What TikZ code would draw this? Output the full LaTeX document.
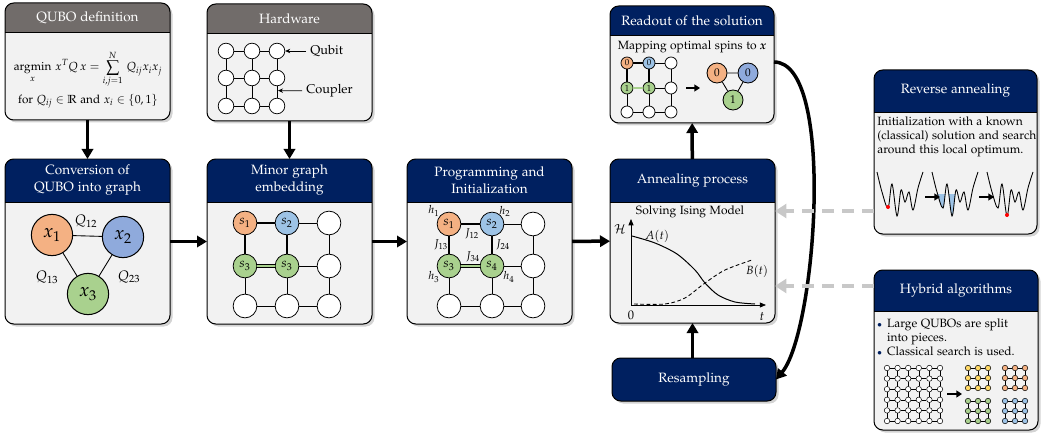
\documentclass[tikz,border=0pt]{standalone}
\usepackage[T1]{fontenc}
\usepackage{amsmath,amssymb}
\usepackage[sc]{mathpazo}
\usetikzlibrary{arrows.meta,shadows,fit,calc}

\definecolor{navy}{HTML}{002060}
\definecolor{headgray}{HTML}{716C6A}
\definecolor{bodygray}{HTML}{F2F2F2}
\definecolor{qorange}{HTML}{F4B183}
\definecolor{qblue}{HTML}{8FAADC}
\definecolor{sblue}{HTML}{9DC3E6}
\definecolor{qgreen}{HTML}{A9D18E}
\definecolor{qyellow}{HTML}{FFD966}
\definecolor{hintgray}{HTML}{C8C8C8}

\tikzset{
  boxline/.style={draw=black,line width=0.8pt,rounded corners=7pt},
  headtext/.style={text=white,align=center,font=\fontsize{10.8}{13.6}\selectfont},
  bodytext/.style={font=\fontsize{9.6}{11}\selectfont},
  flow/.style={line width=2.8pt,-{Triangle[length=8pt,width=9pt]}},
  smallflow/.style={line width=1.5pt,-{Triangle[length=4.5pt,width=5.5pt]}},
  hint/.style={line width=3.6pt,hintgray,dash pattern=on 10pt off 6pt,-{Triangle[length=9pt,width=11pt]}},
  pointer/.style={line width=0.6pt,-{Stealth[length=4pt,width=3.5pt]}},
  thinlink/.style={line width=0.6pt},
  qnode/.style={circle,draw,line width=0.8pt,minimum size=33pt,inner sep=0pt,font=\fontsize{15}{17}\selectfont},
  snode/.style={circle,draw,line width=0.6pt,minimum size=19pt,inner sep=0pt,font=\fontsize{10.5}{12}\selectfont},
  hnode/.style={circle,draw,line width=0.6pt,fill=white,minimum size=12.5pt,inner sep=0pt},
  rnode/.style={circle,draw,line width=0.6pt,minimum size=9.6pt,inner sep=0pt,font=\fontsize{7}{8}\selectfont},
  tnode/.style={circle,draw,line width=0.7pt,minimum size=16pt,inner sep=0pt,font=\fontsize{9}{10}\selectfont},
  dotnode/.style={circle,draw,line width=0.4pt,fill=white,minimum size=4.4pt,inner sep=0pt},
  wellcurve/.style={insert path={plot[smooth,tension=0.55] coordinates
    {(0,0) (5,20) (11,36) (15,12) (20,44) (24,18) (28,30) (32,20) (36,38) (41,16) (46,0)}}}
}

% box with header: name, x1, y1, x2, y2, header bottom, header colour, title
\newcommand{\stage}[8]{%
  \path[fill=bodygray,rounded corners=7pt,
        drop shadow={shadow xshift=2pt,shadow yshift=-2pt,opacity=.35}]
    (#2,#3) rectangle (#4,#5);
  \node[inner sep=0pt,outer sep=0pt,fit={(#2,#3) (#4,#5)}] (#1) {};
  \begin{scope}
    \clip[rounded corners=7pt] (#2,#3) rectangle (#4,#5);
    \fill[#7] (#2,#3) rectangle (#4,#6);
    \draw[line width=0.5pt] (#2,#6) -- (#4,#6);
  \end{scope}
  \draw[boxline] (#2,#3) rectangle (#4,#5);
  \node[headtext] at ({(#2+#4)/2},{(#3+#6)/2}) {#8};
}

% links of a 3x3 grid with the embedded chain
\newcommand{\chainlinks}[2]{%
  \foreach \r in {1,2,3} \draw[thinlink] (#1-1-\r) -- (#1-2-\r) -- (#1-3-\r);
  \foreach \c in {1,2,3} \draw[thinlink] (#1-\c-1) -- (#1-\c-2) -- (#1-\c-3);
  \draw[line width=#2] (#1-1-2) -- (#1-1-1) -- (#1-2-1) -- (#1-2-2);
  \draw[line width=0.5pt,double=qgreen,double distance=#2] (#1-1-2) -- (#1-2-2);
}

% small 3x3 piece: name, x, y, colour
\newcommand{\piece}[4]{%
  \foreach \i in {0,1,2}
    \foreach \j in {0,1,2}
      \node[dotnode,fill=#4] (#1-\i-\j) at ({#2+10*\i},{#3+10*\j}) {};
  \foreach \i in {0,1,2}
    \foreach \j [count=\k from 1] in {0,1} {
      \draw[line width=0.4pt] (#1-\i-\j) -- (#1-\i-\k);
      \draw[line width=0.4pt] (#1-\j-\i) -- (#1-\k-\i);
    }
}

\begin{document}
\begin{tikzpicture}[x=0.8pt,y=-0.8pt]
\useasboundingbox (0,0) rectangle (1043,435);

% boxes
\stage{qubo}{5}{3}{170}{120}{32}{headgray}{QUBO definition}
\stage{hw}{207}{4}{372}{121}{33}{headgray}{Hardware}
\stage{conv}{5}{159}{170}{324}{202}{navy}{Conversion of\\QUBO into graph}
\stage{minor}{207}{159}{372}{324}{202}{navy}{Minor graph\\embedding}
\stage{prog}{407}{159}{572}{324}{202}{navy}{Programming and\\Initialization}
\stage{anneal}{610}{159}{775}{323}{202}{navy}{Annealing process}
\stage{readout}{610}{6}{774}{123}{35}{navy}{Readout of the solution}
\stage{resamp}{612}{358}{776}{401}{401}{navy}{Resampling}
\stage{rev}{874}{70}{1037}{234}{112}{navy}{Reverse annealing}
\stage{hybrid}{874}{270}{1038}{430}{311}{navy}{Hybrid algorithms}

% QUBO definition
\node[font=\fontsize{9.4}{11}\selectfont] (qdef) at (88,69)
  {$\displaystyle \operatorname*{argmin}_{x}\, x^{T}Q\,x = \sum_{i,j=1}^{N}\, Q_{ij}x_ix_j$};
\node[font=\fontsize{9.4}{11}\selectfont] (qfor) at (88,101)
  {for $Q_{ij}\in\mathbb{R}$ and $x_i\in\{0,1\}$};

% hardware
\foreach \c/\x in {1/226,2/252,3/277}
  \foreach \r/\y in {1/51,2/78,3/106}
    \node[hnode] (h-\c-\r) at (\x,\y) {};
\foreach \r in {1,2,3} \draw[thinlink] (h-1-\r) -- (h-2-\r) -- (h-3-\r);
\foreach \c in {1,2,3} \draw[thinlink] (h-\c-1) -- (h-\c-2) -- (h-\c-3);
\node[anchor=west,font=\fontsize{10.2}{12}\selectfont] (qubitlbl) at (306,51) {Qubit};
\node[anchor=west,font=\fontsize{10.2}{12}\selectfont] (couplerlbl) at (302,91) {Coupler};
\coordinate (cpl) at ($(h-3-2)!0.45!(h-3-3)$);
\draw[pointer] (qubitlbl) -- (h-3-1);
\draw[pointer] (couplerlbl) -- ([xshift=0.8pt]cpl);

% conversion of QUBO into graph
\node[qnode,fill=qorange] (x1) at (52,235) {$x_1$};
\node[qnode,fill=qblue] (x2) at (123,237) {$x_2$};
\node[qnode,fill=qgreen] (x3) at (88,294) {$x_3$};
\draw[line width=0.7pt] (x1) -- (x2) (x1) -- (x3) (x2) -- (x3);
\node[font=\fontsize{11}{12}\selectfont] (q12) at (86,221) {$Q_{12}$};
\node[font=\fontsize{11}{12}\selectfont] (q13) at (47,277) {$Q_{13}$};
\node[font=\fontsize{11}{12}\selectfont] (q23) at (129,277) {$Q_{23}$};

% minor graph embedding
\foreach \c/\r/\x/\y/\col/\lbl in {1/1/245/223/qorange/s_1, 2/1/287/223/sblue/s_2,
    3/1/329/223/white/, 1/2/245/266/qgreen/s_3, 2/2/287/266/qgreen/s_3,
    3/2/329/266/white/, 1/3/245/306/white/, 2/3/287/306/white/, 3/3/329/306/white/}
  \node[snode,fill=\col] (m-\c-\r) at (\x,\y) {\ensuremath{\lbl}};
\chainlinks{m}{1.6pt}

% programming and initialization
\foreach \c/\r/\x/\y/\col/\lbl in {1/1/449/224/qorange/s_1, 2/1/492/224/sblue/s_2,
    3/1/533/224/white/, 1/2/449/266/qgreen/s_3, 2/2/492/266/qgreen/s_4,
    3/2/533/266/white/, 1/3/449/306/white/, 2/3/492/306/white/, 3/3/533/306/white/}
  \node[snode,fill=\col] (p-\c-\r) at (\x,\y) {\ensuremath{\lbl}};
\chainlinks{p}{1.6pt}
\foreach \n/\x/\y/\t in {h1/434/211/h_1, h2/505/211/h_2, h3/434/277/h_3, h4/509/277/h_4,
    j12/472/234/J_{12}, j13/441/245/J_{13}, j24/503/245/J_{24}, j34/473/257/J_{34}}
  \node[font=\fontsize{9}{10}\selectfont,inner sep=0pt] (\n) at (\x,\y) {$\t$};

% annealing process
\node[bodytext] (ising) at (690,212) {Solving Ising Model};
\coordinate (origin) at (631,305);
\coordinate (tend) at (766,305);
\coordinate (hend) at (631,219);
\draw[line width=0.6pt,-{Triangle[length=5pt,width=4pt]}] (origin) -- (tend);
\draw[line width=0.6pt,-{Triangle[length=5pt,width=4pt]}] (origin) -- (hend);
\node[font=\fontsize{10}{11}\selectfont] (hlbl) at (620,229) {$\mathcal{H}$};
\node[font=\fontsize{10}{11}\selectfont] (zero) at (631,315) {0};
\node[font=\fontsize{10}{11}\selectfont] (tlbl) at (762,317) {$t$};
\draw[line width=0.8pt] plot[smooth] coordinates
  {(632,236) (655,243) (677,254) (695,270) (705,283) (718,295) (735,302) (755,304)};
\draw[line width=0.7pt,dash pattern=on 3pt off 2pt] plot[smooth] coordinates
  {(634,304) (665,304) (685,298) (705,283) (725,270) (752,260)};
\node[font=\fontsize{9.5}{11}\selectfont] (alabel) at (657,236) {$A(t)$};
\node[font=\fontsize{9.5}{11}\selectfont] (blabel) at (757,271) {$B(t)$};

% readout of the solution
\node[bodytext] (maptxt) at (692,47) {Mapping optimal spins to \textbf{\textit{x}}};
\foreach \c/\r/\x/\y/\col/\lbl in {1/1/627/63/qorange/0, 2/1/649/63/sblue/0,
    3/1/671/63/white/, 1/2/627/88/qgreen/1, 2/2/649/88/qgreen/1,
    3/2/671/88/white/, 1/3/627/112/white/, 2/3/649/112/white/, 3/3/671/112/white/}
  \node[rnode,fill=\col] (r-\c-\r) at (\x,\y) {\lbl};
\chainlinks{r}{1.2pt}
\coordinate (ra) at (686,88);
\coordinate (rb) at (700,88);
\draw[smallflow] (ra) -- (rb);
\node[tnode,fill=qorange] (t1) at (717,73) {0};
\node[tnode,fill=qblue] (t2) at (748,73) {0};
\node[tnode,fill=qgreen] (t3) at (733,100) {1};
\draw[line width=0.7pt] (t1) -- (t2) (t1) -- (t3) (t2) -- (t3);

% reverse annealing
\node[bodytext,anchor=west,align=left,inner sep=0pt] (revtxt) at (877,137)
  {Initialization with a known\\(classical) solution and search\\around this local optimum.};
\begin{scope}[shift={(877,172)}]
  \draw[line width=0.7pt,wellcurve];
  \fill[red] (11,35) circle[radius=1.6pt];
\end{scope}
\begin{scope}[shift={(932,172)}]
  \begin{scope}
    \path[clip,wellcurve] -- cycle;
    \fill[sblue] (5,22) rectangle (26,50);
  \end{scope}
  \draw[line width=0.7pt,wellcurve];
\end{scope}
\begin{scope}[shift={(987,172)}]
  \draw[line width=0.7pt,wellcurve];
  \fill[red] (20,43) circle[radius=1.6pt];
\end{scope}
\coordinate (wa) at (925,197);
\coordinate (wb) at (940,197);
\coordinate (wc) at (979,197);
\coordinate (wd) at (994,197);
\draw[smallflow] (wa) -- (wb);
\draw[smallflow] (wc) -- (wd);

% hybrid algorithms
\node[bodytext,anchor=north west,inner sep=0pt] (hybtxt) at (877,318)
  {\begin{tabular}{@{}l@{\hspace{4pt}}l@{}}
   {\color{navy}\scriptsize$\bullet$} & Large QUBOs are split\\
   & into pieces.\\
   {\color{navy}\scriptsize$\bullet$} & Classical search is used.
   \end{tabular}};
\foreach \i in {0,...,5}
  \foreach \j in {0,...,5}
    \node[dotnode] (b-\i-\j) at ({887+10.6*\i},{368+10.6*\j}) {};
\foreach \i in {0,...,5}
  \foreach \j [count=\k from 1] in {0,...,4} {
    \draw[line width=0.4pt] (b-\i-\j) -- (b-\i-\k);
    \draw[line width=0.4pt] (b-\j-\i) -- (b-\k-\i);
  }
\coordinate (ha) at (947,394);
\coordinate (hb) at (962,394);
\draw[smallflow] (ha) -- (hb);
\piece{py}{968}{368}{qyellow}
\piece{po}{1005}{368}{qorange}
\piece{pg}{968}{401}{qgreen}
\piece{pb}{1005}{401}{sblue}

% connectors between boxes
\draw[flow] (qubo) -- (conv);
\draw[flow] (hw) -- (minor);
\draw[flow] (conv) -- (minor);
\draw[flow] (minor) -- (prog);
\draw[flow] (prog) -- (anneal);
\draw[flow] (anneal) -- (readout);
\draw[flow] (resamp.north -| anneal.south) -- (anneal.south);
\draw[flow] ([yshift=2pt]readout.east) to[out=0,in=50,looseness=0.5] (resamp.east);
\draw[hint] ([yshift=18.4pt]rev.south west) -- ([yshift=18.4pt]rev.south west -| anneal.east);
\draw[hint] ([yshift=-12.8pt]hybrid.north west) -- ([yshift=-12.8pt]hybrid.north west -| anneal.east);
\end{tikzpicture}
\end{document}
